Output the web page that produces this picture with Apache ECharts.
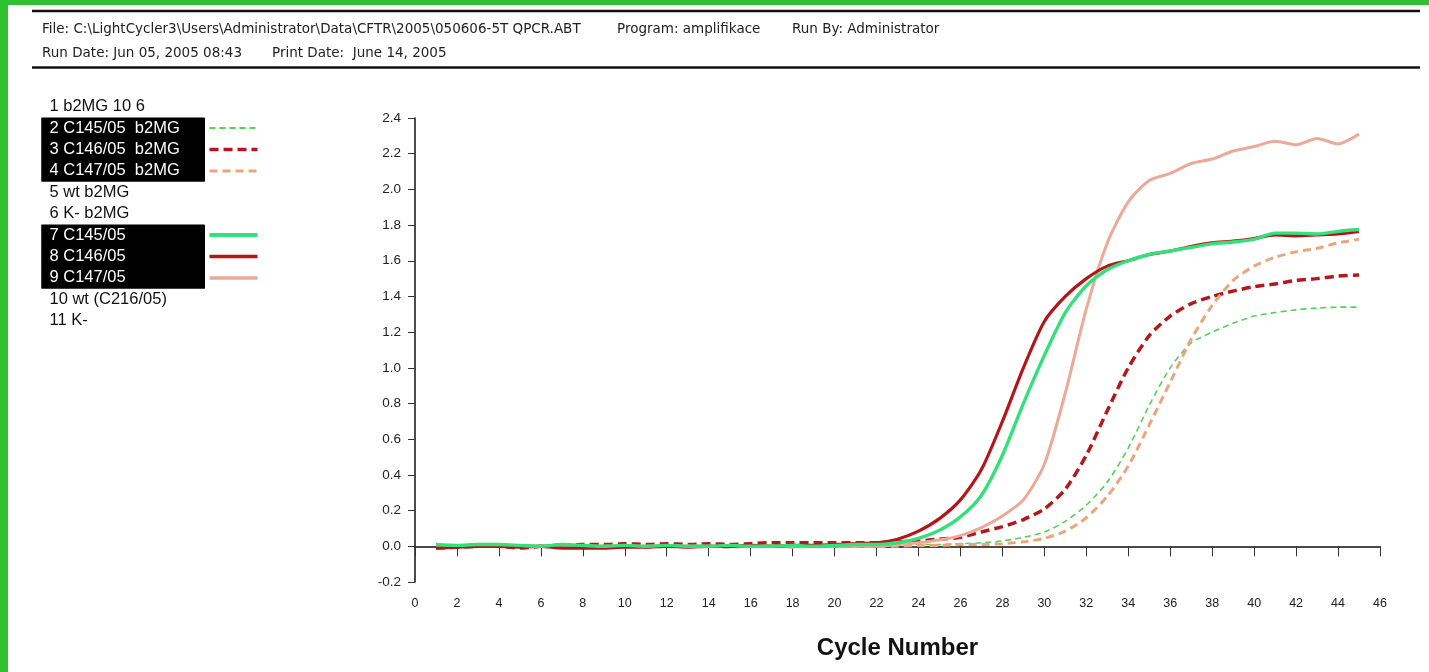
<!DOCTYPE html>
<html>
<head>
	<meta charset="utf-8">
	<title>LightCycler amplifikace</title>
	<script src="https://cdn.jsdelivr.net/npm/echarts@6/dist/echarts.min.js"></script>
	<style>
		html, body { margin: 0; padding: 0; background: #fff; }
	</style>
</head>
<body>
	<div id="echart" style="width: 1429px; height: 672px"></div>
	<script>
		// cycle numbers (x)
		let cycles = [1, 2, 3, 4, 5, 6, 7, 8, 9, 10, 11, 12, 13, 14, 15, 16, 17, 18, 19, 20,
			21, 22, 23, 24, 25, 26, 27, 28, 29, 30, 31, 32, 33, 34, 35, 36, 37, 38, 39, 40,
			41, 42, 43, 44, 45];

		// sample names as listed in the legend
		let sampleNames = ['1 b2MG 10 6', '2 C145/05  b2MG', '3 C146/05  b2MG', '4 C147/05  b2MG',
			'5 wt b2MG', '6 K- b2MG', '7 C145/05', '8 C146/05', '9 C147/05', '10 wt (C216/05)', '11 K-'];

		// fluorescence per cycle
		let c145b2mg = [0.01, 0.0, 0.005, 0.01, 0.0, 0.005, 0.01, 0.0, 0.0, 0.005, 0.0, 0.005, 0.0, 0.005, 0.0, 0.0, 0.005, 0.0, 0.0, 0.005, 0.0,
			0.0, 0.005, 0.01, 0.01, 0.015, 0.02, 0.03, 0.05, 0.08, 0.14, 0.23, 0.36, 0.55, 0.79, 1.0, 1.14, 1.2, 1.25, 1.29, 1.31, 1.325, 1.335, 1.34, 1.34];
		let c146b2mg = [-0.01, -0.005, 0.0, 0.0, -0.01, 0.0, 0.005, 0.01, 0.01, 0.015, 0.01, 0.015, 0.01, 0.015, 0.01, 0.015, 0.02, 0.02, 0.02, 0.02, 0.02,
			0.02, 0.025, 0.03, 0.04, 0.05, 0.08, 0.11, 0.15, 0.21, 0.32, 0.51, 0.76, 1.0, 1.18, 1.29, 1.36, 1.40, 1.43, 1.455, 1.47, 1.49, 1.50, 1.515, 1.52];
		let c147b2mg = [0.0, 0.0, 0.005, 0.0, 0.0, 0.005, 0.0, -0.005, 0.0, 0.0, -0.005, 0.0, 0.0, 0.0, -0.005, 0.0, 0.0, -0.005, 0.0, 0.0, 0.0,
			0.0, 0.0, 0.005, 0.005, 0.01, 0.01, 0.015, 0.025, 0.045, 0.085, 0.16, 0.28, 0.45, 0.68, 0.92, 1.16, 1.35, 1.49, 1.57, 1.62, 1.65, 1.67, 1.70, 1.72];
		let c145 = [0.01, 0.005, 0.01, 0.01, 0.005, 0.0, 0.01, 0.005, 0.0, 0.005, 0.0, 0.005, 0.0, 0.0, 0.005, 0.0, 0.0, 0.005, 0.0, 0.005, 0.01,
			0.01, 0.02, 0.045, 0.09, 0.165, 0.285, 0.51, 0.80, 1.07, 1.31, 1.46, 1.55, 1.60, 1.635, 1.655, 1.675, 1.695, 1.705, 1.72, 1.755, 1.755, 1.75, 1.765, 1.775];
		let c146 = [-0.01, -0.005, 0.0, 0.0, -0.005, 0.0, -0.01, -0.01, -0.01, -0.005, -0.005, 0.0, -0.005, 0.0, 0.0, 0.005, 0.0, 0.005, 0.005, 0.01, 0.015,
			0.02, 0.04, 0.085, 0.155, 0.26, 0.43, 0.70, 1.0, 1.26, 1.40, 1.50, 1.57, 1.60, 1.635, 1.655, 1.68, 1.70, 1.71, 1.725, 1.745, 1.74, 1.745, 1.75, 1.765];
		let c147 = [0.0, 0.0, 0.005, 0.0, 0.0, 0.0, 0.005, 0.0, 0.0, 0.0, 0.0, 0.005, 0.0, 0.0, 0.0, 0.0, 0.0, 0.0, 0.0, 0.0, 0.0,
			0.0, 0.01, 0.02, 0.035, 0.06, 0.105, 0.17, 0.26, 0.46, 0.86, 1.33, 1.70, 1.93, 2.05, 2.09, 2.145, 2.17, 2.215, 2.24, 2.27, 2.25, 2.285, 2.255, 2.31];

		// y tick labels run -0.2 .. 2.4 step 0.2, x ticks 0 .. 46 step 2
		let yMin = -0.2, yMax = 2.4, yStep = 0.2;
		let xMin = 0, xMax = 46, xStep = 2;

		function pairs(values) {
			return values.map(function (v, i) { return [cycles[i], v]; });
		}

		let mychart = echarts.init(document.getElementById('echart'));

		let shown = {
			'2 C145/05  b2MG': { data: c145b2mg, color: '#55d255', width: 1.6, dash: [6, 4], keyWidth: 2 },
			'3 C146/05  b2MG': { data: c146b2mg, color: '#b3191c', width: 3.5, dash: [9, 5], keyWidth: 3.5 },
			'4 C147/05  b2MG': { data: c147b2mg, color: '#eaa57c', width: 3, dash: [8, 5], keyWidth: 3 },
			'9 C147/05': { data: c147, color: '#eba99a', width: 3, dash: 'solid', keyWidth: 3.5 },
			'8 C146/05': { data: c146, color: '#b3161a', width: 3.2, dash: 'solid', keyWidth: 3.5 },
			'7 C145/05': { data: c145, color: '#33e07c', width: 3.4, dash: 'solid', keyWidth: 4 }
		};

		// draw order: dashed first, solid on top
		let drawOrder = ['1 b2MG 10 6', '5 wt b2MG', '6 K- b2MG', '10 wt (C216/05)', '11 K-',
			'2 C145/05  b2MG', '3 C146/05  b2MG', '4 C147/05  b2MG', '9 C147/05', '8 C146/05', '7 C145/05'];

		let series = drawOrder.map(function (name) {
			let s = shown[name];
			if (!s) {
				return { name: name, type: 'line', data: [], symbol: 'none' };
			}
			return {
				name: name,
				type: 'line',
				data: pairs(s.data),
				symbol: 'none',
				smooth: 0.25,
				color: s.color,
				lineStyle: { color: s.color, width: s.width, type: s.dash },
				emphasis: { disabled: true }
			};
		});

		let legendData = sampleNames.map(function (name) {
			let s = shown[name];
			if (s) {
				return { name: name, lineStyle: { width: s.keyWidth, type: s.dash, color: s.color } };
			}
			return {
				name: name,
				icon: 'none',
				textStyle: { color: '#111', backgroundColor: 'transparent' }
			};
		});

		let headFont = { fontFamily: 'DejaVu Sans', fontSize: 13.5, fill: '#222' };

		let option = {
			animation: false,
			backgroundColor: '#fff',
			grid: { left: 415, right: 49, top: 118, bottom: 90 },
			legend: {
				orient: 'vertical',
				left: 41.5,
				top: 96,
				padding: 0,
				align: 'right',
				itemGap: 0,
				itemWidth: 48,
				itemHeight: 14,
				selectedMode: false,
				data: legendData,
				itemStyle: { opacity: 0, borderWidth: 0 },
				formatter: function (name) { return '{t|' + name + '}'; },
				textStyle: {
					fontFamily: 'Liberation Sans',
					fontSize: 16.5,
					color: '#fff',
					backgroundColor: '#000',
					width: 147,
					lineHeight: 15.4,
					padding: [3, 8, 3, 8],
					rich: {
						t: { align: 'left', fontFamily: 'Liberation Sans', fontSize: 16.5, lineHeight: 15.4 }
					}
				}
			},
			xAxis: {
				type: 'value',
				min: xMin,
				max: xMax,
				interval: xStep,
				name: 'Cycle Number',
				nameLocation: 'middle',
				nameGap: 54,
				nameTextStyle: { fontFamily: 'Liberation Sans', fontSize: 24, fontWeight: 'bold', color: '#111' },
				axisLine: { lineStyle: { color: '#111', width: 1.5 } },
				axisTick: { length: 10, lineStyle: { color: '#333' } },
				axisLabel: { fontFamily: 'Liberation Sans', fontSize: 12.5, color: '#222', margin: 15 },
				splitLine: { show: false }
			},
			yAxis: {
				type: 'value',
				min: yMin,
				max: yMax,
				interval: yStep,
				axisLine: { show: true, lineStyle: { color: '#111', width: 1.5 } },
				axisTick: { show: true, length: 7, lineStyle: { color: '#333' } },
				axisLabel: {
					fontFamily: 'Liberation Sans', fontSize: 13.5, color: '#222', margin: 14,
					formatter: function (v) { return v.toFixed(1); }
				},
				splitLine: { show: false }
			},
			graphic: [
				// green frame on the page edge
				{ type: 'rect', shape: { x: 0, y: 0, width: 1429, height: 5 }, style: { fill: '#30c030' }, silent: true },
				{ type: 'rect', shape: { x: 0, y: 0, width: 8, height: 672 }, style: { fill: '#30c030' }, silent: true },
				// black blocks behind the highlighted legend rows (fill the seams between rows)
				{ type: 'rect', z: 0, shape: { x: 41.5, y: 118, width: 163.5, height: 63.4 }, style: { fill: '#000' }, silent: true },
				{ type: 'rect', z: 0, shape: { x: 41.5, y: 225, width: 163.5, height: 63.4 }, style: { fill: '#000' }, silent: true },
				// header rules
				{ type: 'line', shape: { x1: 32, y1: 11, x2: 1420, y2: 11 }, style: { stroke: '#111', lineWidth: 2.5 }, silent: true },
				{ type: 'line', shape: { x1: 32, y1: 67.5, x2: 1420, y2: 67.5 }, style: { stroke: '#111', lineWidth: 2.5 }, silent: true },
				// header text
				{ type: 'text', x: 42, y: 29, style: Object.assign({ text: 'File: C:\\LightCycler3\\Users\\Administrator\\Data\\CFTR\\2005\\050606-5T QPCR.ABT', verticalAlign: 'middle' }, headFont), silent: true },
				{ type: 'text', x: 617, y: 29, style: Object.assign({ text: 'Program: amplifikace', verticalAlign: 'middle' }, headFont), silent: true },
				{ type: 'text', x: 792, y: 29, style: Object.assign({ text: 'Run By: Administrator', verticalAlign: 'middle' }, headFont), silent: true },
				{ type: 'text', x: 42, y: 53, style: Object.assign({ text: 'Run Date: Jun 05, 2005 08:43', verticalAlign: 'middle' }, headFont), silent: true },
				{ type: 'text', x: 272, y: 53, style: Object.assign({ text: 'Print Date:  June 14, 2005', verticalAlign: 'middle' }, headFont), silent: true }
			],
			series: series
		};
		mychart.setOption(option);
	</script>
</body>
</html>
